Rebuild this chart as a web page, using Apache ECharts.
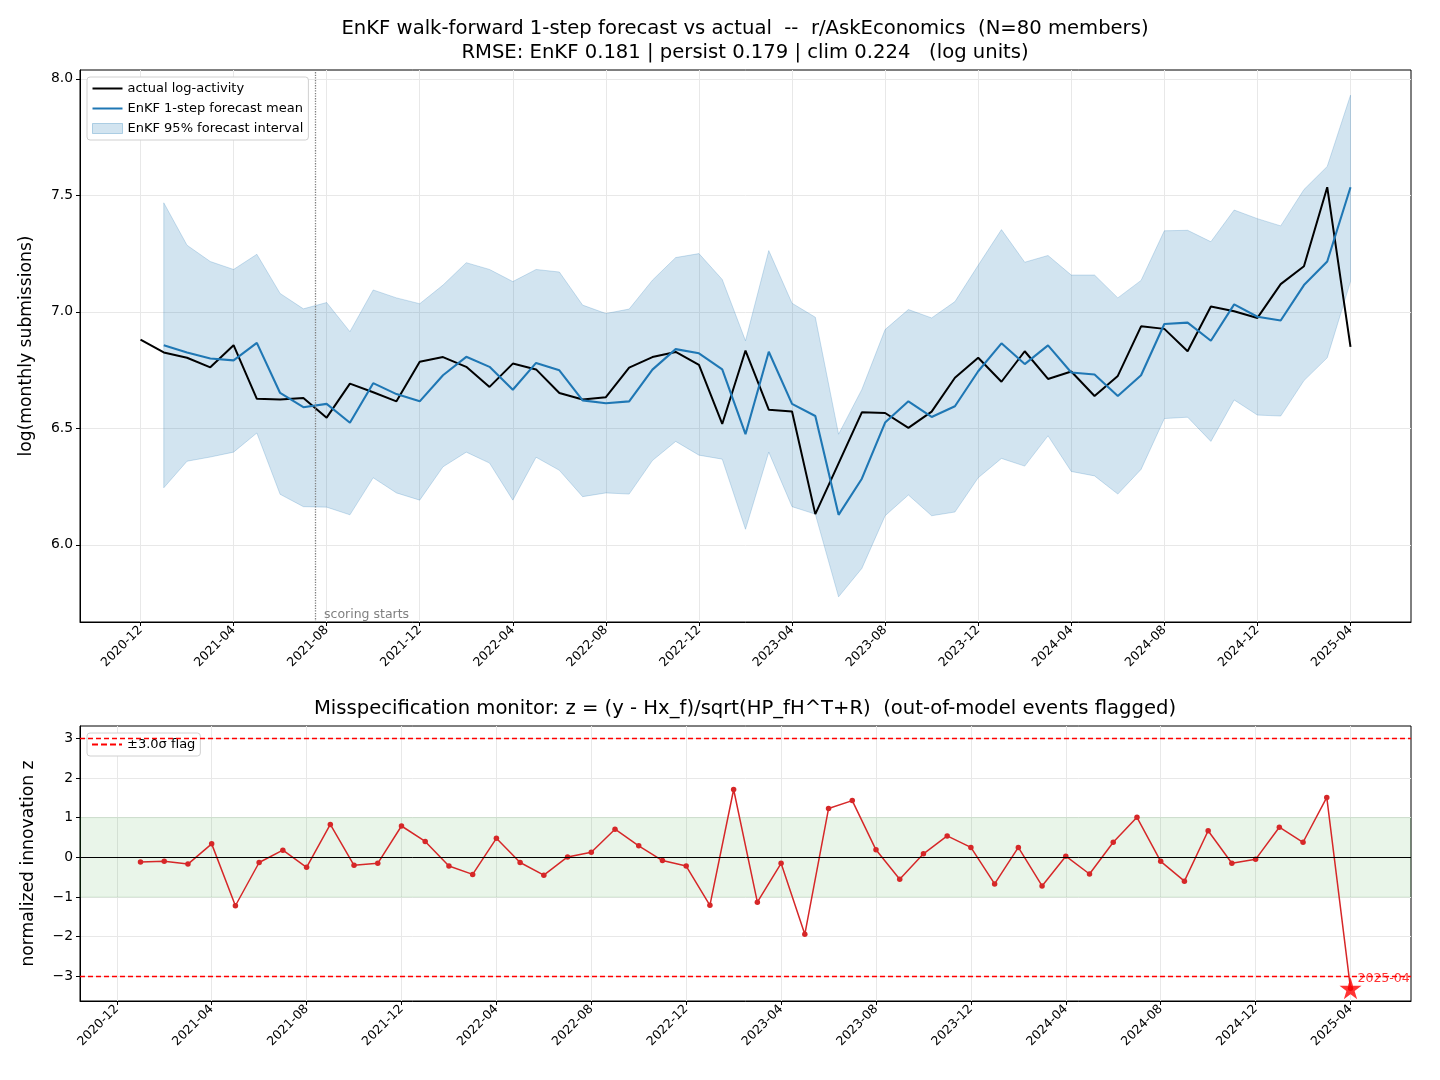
<!DOCTYPE html>
<html>
<head>
<meta charset="utf-8">
<script src="https://cdn.jsdelivr.net/npm/echarts@6/dist/echarts.min.js"></script>
<style>html,body{margin:0;padding:0;background:#fff}#main{width:1440px;height:1080px}</style>
</head>
<body>
<div id="main"></div>
<script>
var myChart = echarts.init(document.getElementById('main'));
const FONT = 'DejaVu Sans';

// months 2020-12 .. 2025-04
const months = [
	'2020-12', '2021-01', '2021-02', '2021-03', '2021-04', '2021-05', '2021-06', '2021-07', '2021-08', '2021-09', '2021-10', '2021-11', '2021-12',
	'2022-01', '2022-02', '2022-03', '2022-04', '2022-05', '2022-06', '2022-07', '2022-08', '2022-09', '2022-10', '2022-11', '2022-12',
	'2023-01', '2023-02', '2023-03', '2023-04', '2023-05', '2023-06', '2023-07', '2023-08', '2023-09', '2023-10', '2023-11', '2023-12',
	'2024-01', '2024-02', '2024-03', '2024-04', '2024-05', '2024-06', '2024-07', '2024-08', '2024-09', '2024-10', '2024-11', '2024-12',
	'2025-01', '2025-02', '2025-03', '2025-04'
];
const tickMonths = ['2020-12', '2021-04', '2021-08', '2021-12', '2022-04', '2022-08', '2022-12', '2023-04', '2023-08', '2023-12', '2024-04', '2024-08', '2024-12', '2025-04'];

// actual log-activity, one per month
const actual = [6.881, 6.826, 6.803, 6.762, 6.857, 6.627, 6.624, 6.630, 6.546, 6.692, 6.655, 6.616, 6.786,
	6.806, 6.764, 6.678, 6.778, 6.753, 6.652, 6.624, 6.634, 6.761, 6.806, 6.828, 6.772,
	6.519, 6.834, 6.580, 6.572, 6.132, 6.350, 6.569, 6.566, 6.502, 6.572, 6.717, 6.803,
	6.700, 6.831, 6.712, 6.744, 6.639, 6.725, 6.938, 6.927, 6.831, 7.023, 7.003, 6.974,
	7.119, 7.196, 7.535, 6.850];

// EnKF 1-step forecasts, from 2021-01
const fcMean = [6.857, 6.826, 6.800, 6.792, 6.867, 6.652, 6.591, 6.605, 6.524, 6.694, 6.647, 6.616,
	6.728, 6.807, 6.764, 6.666, 6.781, 6.749, 6.620, 6.608, 6.616, 6.752, 6.840, 6.822, 6.753, 6.475, 6.829,
	6.605, 6.553, 6.129, 6.284, 6.525, 6.616, 6.549, 6.595, 6.745, 6.865, 6.776, 6.856, 6.740, 6.731,
	6.639, 6.728, 6.948, 6.954, 6.876, 7.032, 6.979, 6.963, 7.115, 7.216, 7.535];
const bandHi = [7.468, 7.286, 7.216, 7.182, 7.247, 7.079, 7.013, 7.040, 6.915, 7.094, 7.060, 7.035,
	7.115, 7.211, 7.182, 7.130, 7.182, 7.171, 7.029, 6.993, 7.012, 7.136, 7.233, 7.250, 7.139, 6.876, 7.263,
	7.037, 6.977, 6.475, 6.667, 6.924, 7.010, 6.974, 7.044, 7.200, 7.353, 7.213, 7.242, 7.158, 7.158,
	7.060, 7.135, 7.348, 7.350, 7.301, 7.437, 7.400, 7.369, 7.525, 7.624, 7.930];
const bandLo = [6.245, 6.359, 6.377, 6.398, 6.480, 6.217, 6.164, 6.162, 6.129, 6.288, 6.223, 6.192,
	6.335, 6.398, 6.351, 6.192, 6.376, 6.320, 6.207, 6.223, 6.218, 6.362, 6.444, 6.385, 6.368, 6.067, 6.398,
	6.164, 6.132, 5.777, 5.899, 6.125, 6.214, 6.125, 6.141, 6.288, 6.371, 6.338, 6.468, 6.315, 6.296,
	6.218, 6.324, 6.542, 6.548, 6.444, 6.622, 6.557, 6.553, 6.705, 6.803, 7.130];

// normalized innovation z, from 2021-01
const zScore = [-0.12, -0.10, -0.17, 0.34, -1.22, -0.13, 0.18, -0.25, 0.83, -0.20, -0.15, 0.79,
	0.40, -0.22, -0.43, 0.48, -0.13, -0.45, 0.01, 0.13, 0.71, 0.29, -0.08, -0.22, -1.21, 1.71, -1.13,
	-0.15, -1.94, 1.23, 1.43, 0.19, -0.55, 0.09, 0.54, 0.25, -0.67, 0.25, -0.72, 0.03, -0.42,
	0.38, 1.01, -0.10, -0.60, 0.67, -0.15, -0.05, 0.76, 0.38, 1.51, -3.30];
const flagLevel = 3.0;
const scoreStart = 7.5; // mid 2021-07

const topYTicks = [6.0, 6.5, 7.0, 7.5, 8.0];
const botYTicks = [-3, -2, -1, 0, 1, 2, 3];

const monthIdx = m => months.indexOf(m);
const xTicks = tickMonths.map(monthIdx);
const actualData = actual.map((v, i) => [i, v]);
const meanData = fcMean.map((v, i) => [i + 1, v]);
const bandData = fcMean.map((v, i) => [i + 1, bandLo[i], bandHi[i]]);
const zData = zScore.map((v, i) => [i + 1, v]);
const flagData = zData.filter(p => Math.abs(p[1]) > flagLevel);

const gridLine = { show: true, lineStyle: { color: '#e8e8e8', width: 1 } };
const lineIcon = 'path://M0,0H30V2H0Z';
const dashIcon = 'path://M0,0H6V2H0Z M9,0H15V2H9Z M18,0H24V2H18Z M27,0H30V2H27Z';
const patchIcon = 'path://M0,0H30V10H0Z';

function xAxisFor(gi, lo, hi) {
	return {
		type: 'value', gridIndex: gi, min: lo, max: hi,
		axisLine: { show: true, onZero: false, lineStyle: { color: '#000' } },
		axisTick: { show: true, length: 4, customValues: xTicks, lineStyle: { color: '#000' } },
		axisLabel: {
			customValues: xTicks, rotate: 45, margin: 6, fontSize: 12.5, fontFamily: FONT, color: '#000',
			formatter: v => months[Math.round(v)]
		},
		splitLine: gridLine
	};
}

function yAxisFor(gi, lo, hi, ticks, digits, name, gap) {
	return {
		type: 'value', gridIndex: gi, min: lo, max: hi,
		name: name, nameLocation: 'middle', nameGap: gap,
		nameTextStyle: { fontSize: 17.2, fontFamily: FONT, color: '#000' },
		axisLine: { show: true, onZero: false, lineStyle: { color: '#000' } },
		axisTick: { show: true, length: 4, customValues: ticks, lineStyle: { color: '#000' } },
		axisLabel: {
			customValues: ticks, margin: 7, fontSize: 13.9, fontFamily: FONT, color: '#000',
			formatter: v => (v < 0 ? '\u2212' : '') + Math.abs(v).toFixed(digits)
		},
		splitLine: gridLine
	};
}

const starPath = 'path://M50,0 L61,35 L98,35 L68,57 L79,91 L50,70 L21,91 L32,57 L2,35 L39,35 Z';

myChart.setOption({
	backgroundColor: '#fff',
	animation: false,
	textStyle: { fontFamily: FONT },
	title: [{
		text: 'EnKF walk-forward 1-step forecast vs actual  --  r/AskEconomics  (N=80 members)\nRMSE: EnKF 0.181 | persist 0.179 | clim 0.224   (log units)',
		left: 745, top: 17, textAlign: 'center', padding: 0,
		textStyle: { fontSize: 19.6, fontWeight: 'normal', fontFamily: FONT, color: '#000', lineHeight: 24 }
	}, {
		text: 'Misspecification monitor: z = (y - Hx_f)/sqrt(HP_fH^T+R)  (out-of-model events flagged)',
		left: 745, top: 697, textAlign: 'center', padding: 0,
		textStyle: { fontSize: 19.6, fontWeight: 'normal', fontFamily: FONT, color: '#000', lineHeight: 24 }
	}],
	legend: [{
		orient: 'vertical', left: 87, top: 77,
		backgroundColor: '#fff', borderColor: '#d0d0d0', borderWidth: 1, borderRadius: 3, padding: 5,
		itemWidth: 30, itemHeight: 14, itemGap: 7,
		textStyle: { fontSize: 13, fontFamily: FONT, color: '#000' },
		data: [
			{ name: 'actual log-activity', icon: lineIcon },
			{ name: 'EnKF 1-step forecast mean', icon: lineIcon },
			{ name: 'EnKF 95% forecast interval', icon: patchIcon, itemStyle: { color: 'rgba(31,119,180,0.2)', borderColor: 'rgba(31,119,180,0.3)', borderWidth: 1 } }
		]
	}, {
		orient: 'vertical', left: 87, top: 733,
		backgroundColor: '#fff', borderColor: '#d0d0d0', borderWidth: 1, borderRadius: 3, padding: 5,
		itemWidth: 30, itemHeight: 14,
		textStyle: { fontSize: 13, fontFamily: FONT, color: '#000' },
		data: [{ name: '\u00b13.0\u03c3 flag', icon: dashIcon }]
	}],
	grid: [
		{ left: 80, right: 29, top: 70, bottom: 458, show: true, borderColor: '#000', borderWidth: 1, backgroundColor: '#fff' },
		{ left: 80, right: 29, top: 726, bottom: 79, show: true, borderColor: '#000', borderWidth: 1, backgroundColor: '#fff' }
	],
	xAxis: [xAxisFor(0, -2.6, 54.6), xAxisFor(1, -1.55, 54.55)],
	yAxis: [
		yAxisFor(0, 5.669, 8.038, topYTicks, 1, 'log(monthly submissions)', 45),
		yAxisFor(1, -3.62, 3.31, botYTicks, 0, 'normalized innovation z', 43)
	],
	series: [{
		name: 'EnKF 95% forecast interval',
		type: 'custom', xAxisIndex: 0, yAxisIndex: 0, z: 1,
		itemStyle: { color: 'rgba(31,119,180,0.2)' },
		encode: { x: 0, y: [1, 2] },
		data: bandData,
		renderItem: function (params, api) {
			if (params.dataIndex !== 0) return;
			const pts = [];
			bandData.forEach(d => pts.push(api.coord([d[0], d[2]])));
			bandData.slice().reverse().forEach(d => pts.push(api.coord([d[0], d[1]])));
			return {
				type: 'polygon', shape: { points: pts },
				style: { fill: 'rgba(31,119,180,0.2)', stroke: 'rgba(31,119,180,0.22)', lineWidth: 1 }
			};
		}
	}, {
		name: 'actual log-activity',
		type: 'line', xAxisIndex: 0, yAxisIndex: 0, z: 3,
		symbol: 'none', color: '#000',
		lineStyle: { color: '#000', width: 2 },
		data: actualData,
		markLine: {
			silent: true, symbol: 'none',
			lineStyle: { color: '#808080', type: 'dotted', width: 1.3 },
			label: { show: false },
			data: [{ xAxis: scoreStart }]
		},
		markPoint: {
			silent: true, symbol: 'circle', symbolSize: 0,
			label: { show: true, position: 'right', distance: 9, formatter: 'scoring starts', color: '#808080', fontSize: 12.5, fontFamily: FONT },
			data: [{ coord: [scoreStart, 5.70] }]
		}
	}, {
		name: 'EnKF 1-step forecast mean',
		type: 'line', xAxisIndex: 0, yAxisIndex: 0, z: 4,
		symbol: 'none', color: '#1f77b4',
		lineStyle: { color: '#1f77b4', width: 2.1 },
		data: meanData
	}, {
		name: '\u00b13.0\u03c3 flag',
		type: 'line', xAxisIndex: 1, yAxisIndex: 1, z: 2,
		symbol: 'none', color: '#ff0000',
		lineStyle: { color: '#ff0000', width: 1.4, type: 'dashed' },
		data: [],
		markLine: {
			silent: true, symbol: 'none',
			lineStyle: { color: '#ff0000', width: 1.4, type: [5, 3] },
			label: { show: false },
			data: [{ yAxis: flagLevel }, { yAxis: -flagLevel }]
		}
	}, {
		name: 'z',
		type: 'line', xAxisIndex: 1, yAxisIndex: 1, z: 3,
		symbol: 'circle', symbolSize: 5.5, color: '#d62728',
		lineStyle: { color: '#d62728', width: 1.5 },
		itemStyle: { color: '#d62728' },
		data: zData,
		markArea: {
			silent: true,
			itemStyle: { color: 'rgba(44,160,44,0.1)', borderColor: 'rgba(44,160,44,0.12)', borderWidth: 1 },
			data: [[{ yAxis: -1 }, { yAxis: 1 }]]
		},
		markLine: {
			silent: true, symbol: 'none',
			lineStyle: { color: '#000', width: 1, type: 'solid' },
			label: { show: false },
			data: [{ yAxis: 0 }]
		}
	}, {
		name: 'flagged',
		type: 'scatter', xAxisIndex: 1, yAxisIndex: 1, z: 5,
		symbol: starPath, symbolSize: 22, color: '#ff0000',
		itemStyle: { color: '#ff0000' },
		label: {
			show: true, position: 'right', distance: -4, offset: [0, -10],
			formatter: p => months[p.value[0]], color: '#ff0000', fontSize: 12.5, fontFamily: FONT
		},
		data: flagData
	}]
});
</script>
</body>
</html>
